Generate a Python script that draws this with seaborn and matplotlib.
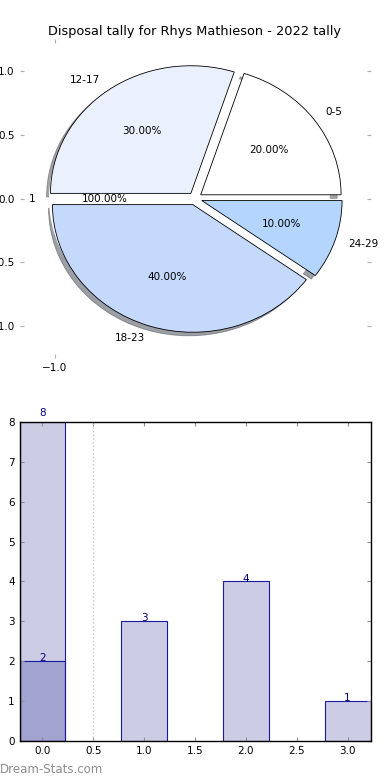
import numpy as np
import seaborn as sns
import matplotlib
matplotlib.use("Agg")
import matplotlib.pyplot as plt
from matplotlib.patches import Shadow

# disposal ranges and how many games fell in each
ranges = ["0-5", "12-17", "18-23", "24-29"]
games = [2, 3, 4, 1]
pie_colors = ["#ffffff", "#eaf1fd", "#c5d9fd", "#b3d5fe"]

# bar chart values
bar_pos = [0, 1, 2, 3]
bar_vals = [2, 3, 4, 1]
total_pos = [0]
total_vals = [8]

# leftover single-slice pie (white disc under the main pie, only its texts show)
extra_vals = [1]
extra_labels = ["1"]

plt.rcParams["font.family"] = "DejaVu Sans"
plt.rcParams["font.size"] = 7.5

fig, (ax1, ax2) = plt.subplots(2, 1, figsize=(3.9, 7.8), dpi=100)
fig.patch.set_facecolor("white")
fig.subplots_adjust(left=0.05, right=0.95, top=0.95, bottom=0.05, hspace=0.2)

# --- pie ---
ax1.pie(games, labels=ranges, colors=pie_colors, autopct="%.2f%%",
        explode=[0.05] * len(games), shadow=True, startangle=0,
        wedgeprops={"edgecolor": "black", "linewidth": 0.6},
        textprops={"fontsize": 7.5}, frame=True)
# push the shadows below the white disc
for p in ax1.patches:
    if isinstance(p, Shadow):
        p.set_zorder(0.5)
ax1.pie(extra_vals, labels=extra_labels, autopct="%.2f%%", startangle=0,
        explode=[0.04], colors=["white"],
        wedgeprops={"linewidth": 0, "zorder": 0.8},
        textprops={"fontsize": 7.5}, frame=True)
ax1.set_aspect("auto")
ax1.set_xlim(-1.25, 1.25)
ax1.set_ylim(-1.25, 1.25)
ax1.set_xticks([-1.0])
ax1.set_xticklabels(["\u22121.0"])
ax1.set_yticks([-1.0, -0.5, 0.0, 0.5, 1.0])
ax1.set_yticklabels(["\u22121.0", "\u22120.5", "0.0", "0.5", "1.0"])
ax1.set_frame_on(False)
ax1.tick_params(direction="in", length=3, color="#b0b0b0", top=True, right=True,
                labelsize=7.5)
ax1.set_title("Disposal tally for Rhys Mathieson - 2022 tally", fontsize=9.3, pad=3)

# --- bars ---
face = (0, 0, 0.5, 0.2)
edge = "#1a1a9c"
sns.barplot(x=total_pos, y=total_vals, native_scale=True, width=0.45,
            facecolor=face, edgecolor=edge, linewidth=0.8, ax=ax2)
sns.barplot(x=bar_pos, y=bar_vals, native_scale=True, width=0.45,
            facecolor=face, edgecolor=edge, linewidth=0.8, ax=ax2)
for p in ax2.patches:
    p.set_facecolor(face)
    p.set_edgecolor(edge)

ax2.bar_label(ax2.containers[0], padding=3, color="navy", fontsize=7.5)
ax2.bar_label(ax2.containers[1], padding=-1.5, color="navy", fontsize=7.5)
ax2.axvline(0.5, color="#c8c8c8", linestyle=":", linewidth=1)

ax2.set_xlim(-0.225, 3.225)
ax2.set_ylim(0, 8)
ax2.set_xticks(np.arange(0, 3.01, 0.5))
ax2.set_yticks(range(0, 9))
ax2.set_xlabel("")
ax2.set_ylabel("")
ax2.tick_params(direction="in", length=3, color="#909090", top=True, right=True,
                labelsize=7.5)
for s in ax2.spines.values():
    s.set_color("black")
    s.set_linewidth(1)

fig.text(0.0, 0.005, "Dream-Stats.com", color="#8c8c8c", fontsize=8.5, ha="left", va="bottom")

fig.savefig("out.png", dpi=100, facecolor="white")
